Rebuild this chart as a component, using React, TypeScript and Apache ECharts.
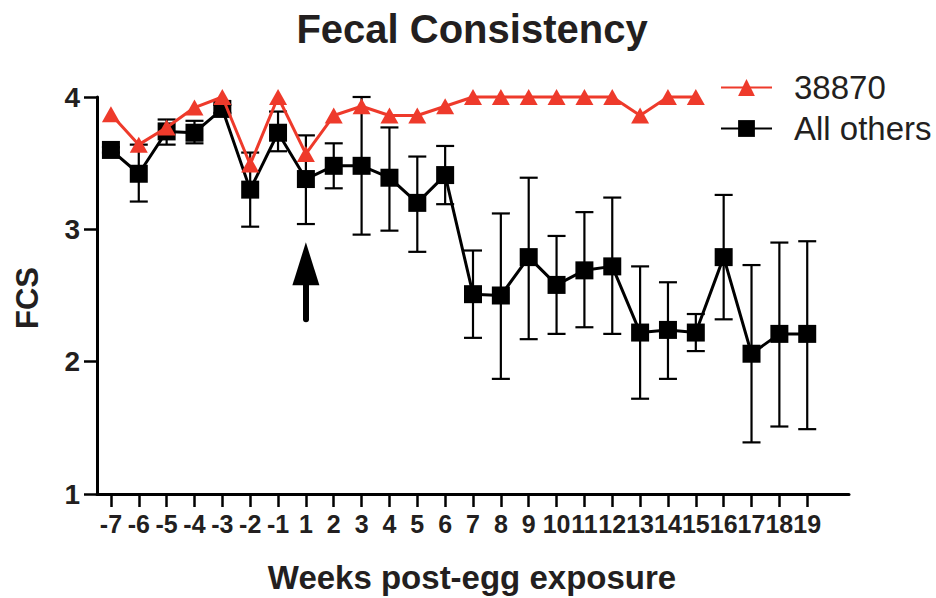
import React, { useEffect, useRef } from 'react';
import * as echarts from 'echarts';

// ---- data ----
const weeks = ['-7', '-6', '-5', '-4', '-3', '-2', '-1', '1', '2', '3', '4', '5', '6', '7', '8', '9', '10', '11', '12', '13', '14', '15', '16', '17', '18', '19'];
// one trailing empty slot: the axis line runs a little past week 19
const axisSlots = [...weeks, ''];

const strain38870: (number | null)[] = [3.87, 3.64, 3.77, 3.92, 4.0, 3.49, 4.0, 3.57, 3.86, 3.93, 3.86, 3.86, 3.93, 4.0, 4.0, 4.0, 4.0, 4.0, 4.0, 3.86, 4.0, 4.0, null, null, null, null];
const allOthersMean = [3.6, 3.42, 3.74, 3.73, 3.91, 3.3, 3.73, 3.38, 3.48, 3.48, 3.39, 3.2, 3.41, 2.51, 2.5, 2.79, 2.58, 2.69, 2.72, 2.22, 2.24, 2.22, 2.79, 2.06, 2.21, 2.21];
const allOthersLow = [3.58, 3.21, 3.64, 3.65, 3.88, 3.02, 3.59, 3.04, 3.31, 2.96, 2.99, 2.83, 3.19, 2.18, 1.87, 2.17, 2.21, 2.26, 2.21, 1.72, 1.87, 2.08, 2.32, 1.39, 1.51, 1.49];
const allOthersHigh = [3.62, 3.64, 3.83, 3.82, 3.94, 3.58, 3.89, 3.71, 3.65, 4.0, 3.77, 3.55, 3.63, 2.84, 3.12, 3.39, 2.95, 3.13, 3.24, 2.72, 2.6, 2.36, 3.26, 2.73, 2.9, 2.91];

const yMin = 1;
const yMax = 4;
const yStep = 1;

// arrow marking egg exposure (week 1)
const arrowWeek = '1';
const arrowFrom = 2.32;
const arrowHeadCenter = 2.74;

const RED = '#ee3a2b';
const BLACK = '#000000';
const TEXT = '#231f20';

export default function App() {
  const ref = useRef<HTMLDivElement>(null);

  useEffect(() => {
    if (!ref.current) return;
    const chart = echarts.init(ref.current, undefined, { renderer: 'svg' });

    const errData = weeks.map((_, i) => [i, allOthersLow[i], allOthersHigh[i]]);

    chart.setOption({
      animation: false,
      backgroundColor: '#ffffff',
      textStyle: { fontFamily: "'Liberation Sans', Arial, Helvetica, sans-serif" },
      grid: { left: 97, right: 87, top: 97, bottom: 104, containLabel: false, outerBoundsMode: 'none' },
      graphic: [
        {
          type: 'text', x: 472, y: 29,
          style: { text: 'Fecal Consistency', fill: TEXT, font: "bold 40px 'Liberation Sans', Arial, sans-serif", align: 'center', verticalAlign: 'middle' },
        },
        {
          type: 'text', x: 472, y: 577,
          style: { text: 'Weeks post-egg exposure', fill: TEXT, font: "bold 33px 'Liberation Sans', Arial, sans-serif", align: 'center', verticalAlign: 'middle' },
        },
        {
          type: 'text', x: 27, y: 298, rotation: Math.PI / 2,
          style: { text: 'FCS', fill: TEXT, font: "bold 31px 'Liberation Sans', Arial, sans-serif", align: 'center', verticalAlign: 'middle' },
        },
      ],
      legend: {
        orient: 'vertical',
        left: 720,
        top: 70,
        padding: 0,
        itemWidth: 51,
        itemHeight: 21,
        itemGap: 6,
        data: ['38870', 'All others'],
        textStyle: { fontSize: 33, color: TEXT, lineHeight: 35, padding: [0, 0, 0, 17], fontFamily: "'Liberation Sans', Arial, sans-serif" },
      },
      xAxis: {
        type: 'category',
        data: axisSlots,
        boundaryGap: true,
        axisLine: { show: true, lineStyle: { color: BLACK, width: 3 } },
        axisTick: {
          show: true,
          alignWithLabel: true,
          length: 13,
          interval: (idx: number) => idx < weeks.length,
          lineStyle: { color: BLACK, width: 2.5 },
        },
        axisLabel: {
          interval: 0,
          margin: 17,
          color: TEXT,
          fontSize: 25,
          fontWeight: 'bold',
          fontFamily: "'Liberation Sans Narrow', 'Arial Narrow', 'Liberation Sans', Arial, sans-serif",
        },
        splitLine: { show: false },
      },
      yAxis: {
        type: 'value',
        min: yMin,
        max: yMax,
        interval: yStep,
        axisLine: { show: true, lineStyle: { color: BLACK, width: 3 } },
        axisTick: { show: true, length: 13, lineStyle: { color: BLACK, width: 2.5 } },
        axisLabel: { margin: 17, color: TEXT, fontSize: 28, fontWeight: 'bold' },
        splitLine: { show: false },
      },
      series: [
        {
          name: 'error',
          type: 'custom',
          z: 1,
          clip: false,
          silent: true,
          data: errData,
          encode: { x: 0, y: [1, 2] },
          renderItem: (params: any, api: any) => {
            const x = api.value(0);
            const lo = api.coord([x, api.value(1)]);
            const hi = api.coord([x, api.value(2)]);
            const half = 9;
            const style = { stroke: BLACK, lineWidth: 2.2 };
            return {
              type: 'group',
              children: [
                { type: 'line', shape: { x1: hi[0], y1: hi[1], x2: lo[0], y2: lo[1] }, style },
                { type: 'line', shape: { x1: hi[0] - half, y1: hi[1], x2: hi[0] + half, y2: hi[1] }, style },
                { type: 'line', shape: { x1: lo[0] - half, y1: lo[1], x2: lo[0] + half, y2: lo[1] }, style },
              ],
            };
          },
        },
        {
          name: 'All others',
          type: 'line',
          z: 2,
          clip: false,
          data: allOthersMean,
          symbol: 'rect',
          symbolSize: 18,
          itemStyle: { color: BLACK },
          lineStyle: { color: BLACK, width: 3 },
          markLine: {
            silent: true,
            symbol: ['none', 'triangle'],
            symbolSize: [27, 43],
            label: { show: false },
            lineStyle: { color: BLACK, width: 6, type: 'solid', cap: 'round' },
            emphasis: { disabled: true },
            data: [[{ coord: [arrowWeek, arrowFrom] }, { coord: [arrowWeek, arrowHeadCenter] }]],
          },
        },
        {
          name: '38870',
          type: 'line',
          z: 3,
          clip: false,
          data: strain38870,
          symbol: 'triangle',
          symbolSize: [18, 16],
          itemStyle: { color: RED },
          lineStyle: { color: RED, width: 3 },
        },
      ],
    });

    return () => chart.dispose();
  }, []);

  return <div ref={ref} style={{ position: 'absolute', left: 0, top: 0, width: 936, height: 598 }} />;
}
